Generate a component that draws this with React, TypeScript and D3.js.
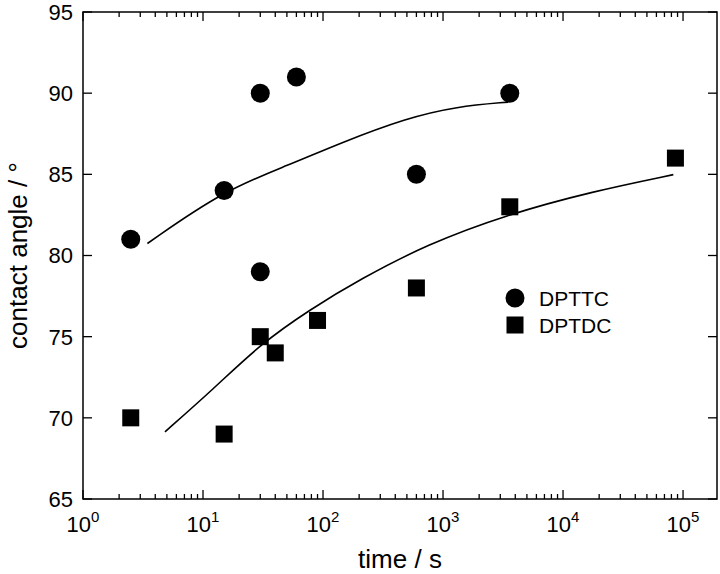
import React, { useEffect, useRef } from 'react';
import * as d3 from 'd3';

// measured points
const dpttcTime = [2.5, 15, 30, 60, 30, 600, 3600];
const dpttcAngle = [81, 84, 90, 91, 79, 85, 90];
const dptdcTime = [2.5, 15, 30, 40, 90, 600, 3600, 86400];
const dptdcAngle = [70, 69, 75, 74, 76, 78, 83, 86];

// fit curves
const dpttcFitTime = [3.44, 14.8, 53, 139, 498, 1300, 3500];
const dpttcFitAngle = [80.74, 84.0, 85.6, 86.93, 88.47, 89.18, 89.45];
const dptdcFitTime = [4.82, 12.2, 29.9, 78, 203, 731, 3396, 17900, 83000];
const dptdcFitAngle = [69.14, 71.77, 74.53, 76.68, 78.53, 80.68, 82.52, 83.96, 84.98];

const yTicks = [65, 70, 75, 80, 85, 90, 95];
const xDecades = [0, 1, 2, 3, 4, 5];
const seriesNames = ['DPTTC', 'DPTDC'];

const App = () => {
  const ref = useRef<SVGSVGElement>(null);
  const width = 720;
  const height = 574;

  useEffect(() => {
    const margin = { top: 12, right: 3, bottom: 75, left: 83 };
    const innerWidth = width - margin.left - margin.right;
    const innerHeight = height - margin.top - margin.bottom;
    const font = '"Liberation Sans", Arial, sans-serif';

    const svg = d3.select(ref.current);
    svg.selectAll('*').remove();

    const g = svg.append('g').attr('transform', `translate(${margin.left},${margin.top})`);

    const x = d3.scaleLog().domain([1, Math.pow(10, 5.283)]).range([0, innerWidth]);
    const y = d3.scaleLinear().domain([65, 95]).range([innerHeight, 0]);

    // frame
    g.append('rect')
      .attr('width', innerWidth)
      .attr('height', innerHeight)
      .attr('fill', 'none')
      .attr('stroke', '#000')
      .attr('stroke-width', 1.5);

    // x ticks (bottom + top, inward)
    const [, xMax] = x.domain();
    const xTickVals: { v: number; major: boolean }[] = [];
    xDecades.forEach(p => {
      for (let m = 1; m <= 9; m++) {
        const v = m * Math.pow(10, p);
        if (v <= xMax) xTickVals.push({ v, major: m === 1 });
      }
    });
    const ticks = g.append('g').attr('stroke', '#000').attr('stroke-width', 1.3);
    xTickVals.forEach(t => {
      const len = t.major ? 9 : 5;
      ticks.append('line').attr('x1', x(t.v)).attr('x2', x(t.v)).attr('y1', innerHeight).attr('y2', innerHeight - len);
      ticks.append('line').attr('x1', x(t.v)).attr('x2', x(t.v)).attr('y1', 0).attr('y2', len);
    });
    yTicks.forEach(v => {
      ticks.append('line').attr('x1', 0).attr('x2', 9).attr('y1', y(v)).attr('y2', y(v));
      ticks.append('line').attr('x1', innerWidth).attr('x2', innerWidth - 9).attr('y1', y(v)).attr('y2', y(v));
    });

    // y tick labels
    g.selectAll('.ylab')
      .data(yTicks)
      .enter()
      .append('text')
      .attr('x', -10)
      .attr('y', d => y(d))
      .attr('dy', '0.36em')
      .attr('text-anchor', 'end')
      .style('font-family', font)
      .style('font-size', '22px')
      .text(d => d);

    // x tick labels 10^n
    xDecades.forEach(p => {
      const t = g.append('text')
        .attr('x', x(Math.pow(10, p)))
        .attr('y', innerHeight + 33)
        .attr('text-anchor', 'middle')
        .style('font-family', font)
        .style('font-size', '22px');
      t.append('tspan').text('10');
      t.append('tspan').attr('dy', -10).style('font-size', '15px').text(p);
    });

    // axis titles
    svg.append('text')
      .attr('x', margin.left + innerWidth / 2)
      .attr('y', 568)
      .attr('text-anchor', 'middle')
      .style('font-family', font)
      .style('font-size', '26px')
      .text('time / s');

    svg.append('text')
      .attr('transform', `translate(27,${margin.top + innerHeight / 2}) rotate(-90)`)
      .attr('text-anchor', 'middle')
      .style('font-family', font)
      .style('font-size', '26px')
      .text('contact angle / °');

    // fit lines
    const line = d3.line<[number, number]>()
      .x(d => x(d[0]))
      .y(d => y(d[1]))
      .curve(d3.curveBasis);

    const fits = [
      d3.zip(dpttcFitTime, dpttcFitAngle),
      d3.zip(dptdcFitTime, dptdcFitAngle),
    ];
    fits.forEach(f => {
      g.append('path')
        .attr('d', line(f as [number, number][]))
        .attr('fill', 'none')
        .attr('stroke', '#000')
        .attr('stroke-width', 1.6);
    });

    // markers
    g.selectAll('.c')
      .data(d3.zip(dpttcTime, dpttcAngle))
      .enter()
      .append('circle')
      .attr('cx', d => x(d[0]))
      .attr('cy', d => y(d[1]))
      .attr('r', 9.5)
      .attr('fill', '#000');

    const sq = 17;
    g.selectAll('.s')
      .data(d3.zip(dptdcTime, dptdcAngle))
      .enter()
      .append('rect')
      .attr('x', d => x(d[0]) - sq / 2)
      .attr('y', d => y(d[1]) - sq / 2)
      .attr('width', sq)
      .attr('height', sq)
      .attr('fill', '#000');

    // legend
    const legend = svg.append('g').attr('transform', 'translate(515,298)');
    legend.append('circle').attr('cx', 0).attr('cy', 0).attr('r', 9.5).attr('fill', '#000');
    legend.append('rect').attr('x', -sq / 2).attr('y', 27 - sq / 2).attr('width', sq).attr('height', sq).attr('fill', '#000');
    seriesNames.forEach((n, i) => {
      legend.append('text')
        .attr('x', 24)
        .attr('y', i * 27)
        .attr('dy', '0.36em')
        .style('font-family', font)
        .style('font-size', '21px')
        .text(n);
    });
  }, []);

  return (
    <svg
      ref={ref}
      width={width}
      height={height}
      viewBox={`0 0 ${width} ${height}`}
      style={{ position: 'absolute', left: 0, top: 0, background: '#fff' }}
    />
  );
};

export default App;
